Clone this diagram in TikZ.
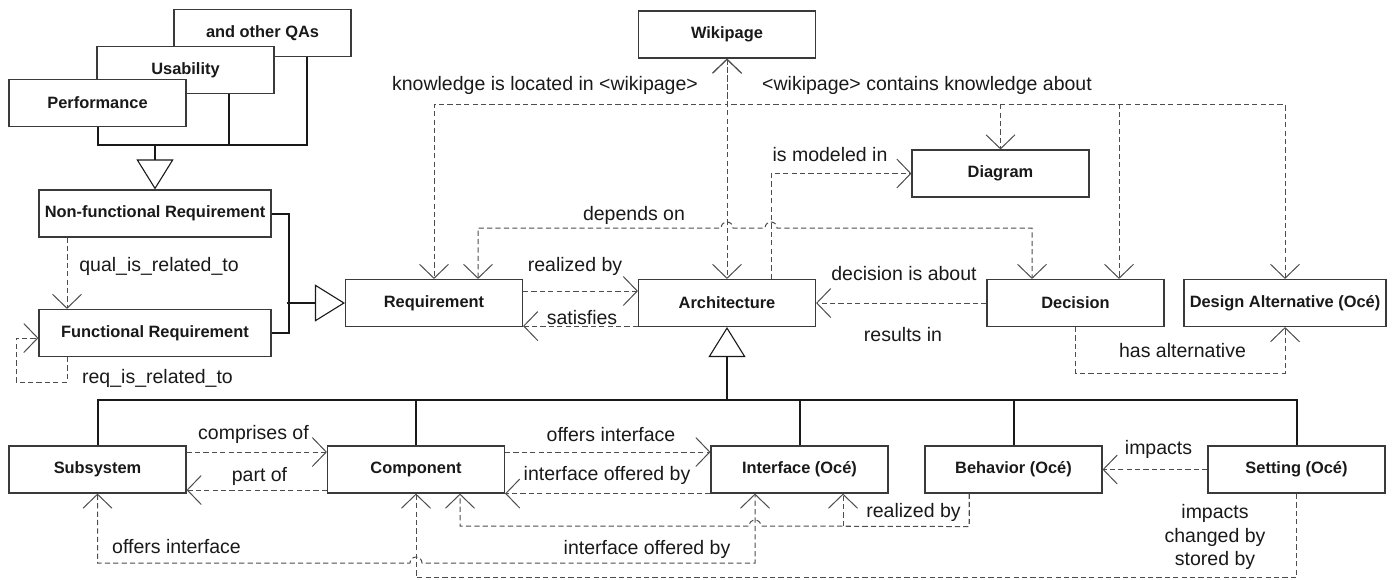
\documentclass[tikz,border=0pt]{standalone}
\usepackage{fontspec}
\setmainfont{Liberation Sans}
\usetikzlibrary{arrows.meta}
\definecolor{boxline}{HTML}{3A3A3A}
\definecolor{depline}{HTML}{4D4D4D}
\begin{document}
\begin{tikzpicture}[x=0.5pt,y=-0.5pt,
  cls/.style={draw=boxline,line width=0.55pt,fill=white,minimum width=88.5pt,minimum height=23.5pt,inner sep=1pt,font=\fontsize{8.2}{10}\selectfont\bfseries,text=black!90},
  lbl/.style={font=\fontsize{9.75}{11.7}\selectfont,text=black!90,inner sep=0pt},
  dep/.style={draw=depline,line width=0.5pt,dash pattern=on 2.6pt off 1.6pt},
  isa/.style={draw=black!90,line width=1pt},
  gen/.style={{Triangle[open,length=15pt,width=18.5pt,line width=0.55pt]}-},
  >={Straight Barb[length=7pt,width=14.5pt,line width=0.5pt]}]
\useasboundingbox (0,0) rectangle (1392,579);
\node[cls] (qa) at (262.5,33) {and other QAs};
\node[cls] (usab) at (185.5,70) {Usability};
\node[cls] (perf) at (97.5,103) {Performance};
\node[cls,minimum width=116pt] (nfr) at (155,213.5) {Non-functional Requirement};
\node[cls,minimum width=116pt] (fr) at (155,333) {Functional Requirement};
\node[cls] (req) at (434,303) {Requirement};
\node[cls] (arch) at (727,303) {Architecture};
\node[cls] (wiki) at (727,34.5) {Wikipage};
\node[cls] (diag) at (1000.5,173.5) {Diagram};
\node[cls] (dec) at (1075.5,303) {Decision};
\node[cls,minimum width=101pt] (alt) at (1285,303) {Design Alternative (Océ)};
\node[cls] (sub) at (97.5,469.5) {Subsystem};
\node[cls] (comp) at (416,469.5) {Component};
\node[cls] (intf) at (799.5,469.5) {Interface (Océ)};
\node[cls] (beh) at (1013.5,469.5) {Behavior (Océ)};
\node[cls] (set) at (1296.5,469.5) {Setting (Océ)};
\draw[isa] (perf.south) -- ++(0,18) -| ([xshift=22.25pt]qa.south);
\draw[isa] ([xshift=21.75pt]usab.south) -- ++(0,51);
\draw[isa,gen] (nfr.north) -- ++(0,-45);
\draw[isa] (nfr.east) -- ++(17,0) |- (fr.east);
\draw[isa,gen] (req.west) -- ++(-58,0);
\draw[isa,gen] (arch.south) -- ++(0,74);
\draw[isa] (sub.north) -- ++(0,-45) -| (set.north);
\draw[isa] (comp.north) -- ++(0,-45);
\draw[isa] (intf.north) -- ++(0,-45);
\draw[isa] (beh.north) -- ++(0,-45);
\draw[dep,<->] (wiki.south) -- (arch.north);
\draw[dep,<->] (wiki.south) -- ++(0,46) -| (req.north);
\draw[dep,->] (wiki.south) -- ++(0,46) -| (diag.north);
\draw[dep,->] (wiki.south) -- ++(0,46) -| ([xshift=21.75pt]dec.north);
\draw[dep,->] (wiki.south) -- ++(0,46) -| (alt.north);
\draw[dep,<->] ([xshift=22pt]req.north) |- (721,228) arc[start angle=180,end angle=0,radius=3pt] -- (765,228) arc[start angle=180,end angle=0,radius=3pt] -| ([xshift=-21.75pt]dec.north);
\draw[dep,->] ([xshift=22pt]arch.north) |- (diag.west);
\draw[dep,->] ([yshift=6pt]req.east) -- ([yshift=6pt]arch.west);
\draw[dep,->] ([yshift=0.5pt]arch.south west) -- ([yshift=0.5pt]req.south east);
\draw[dep,->] (dec.west) -- (arch.east);
\draw[dep,->] (dec.south) -- ++(0,46) -| (alt.south);
\draw[dep,->] ([xshift=-44pt]nfr.south) -- ([xshift=-44pt]fr.north);
\draw[dep,->] ([xshift=-44pt]fr.south) |- (16,382) |- ([yshift=-2.5pt]fr.west);
\draw[dep,->] ([yshift=8.75pt]sub.east) -- ([yshift=8.75pt]comp.west);
\draw[dep,->] ([yshift=-10.25pt]comp.west) -- ([yshift=-10.25pt]sub.east);
\draw[dep,->] ([yshift=8.75pt]comp.east) -- ([yshift=8.75pt]intf.west);
\draw[dep,->] (intf.south west) -- (comp.south east);
\draw[dep,->] (set.west) -- (beh.east);
\draw[dep,<->] (sub.south) |- (410,563) arc[start angle=180,end angle=0,radius=3pt] -| ([xshift=-22.25pt]intf.south);
\draw[dep,<-] (comp.south) -- ++(0,84) -| (set.south);
\draw[dep,->] ([xshift=-22.25pt]beh.south) -- ++(0,33) -- (761,526) arc[start angle=0,end angle=180,radius=3pt] -| ([xshift=22pt]comp.south);
\draw[dep,->] ([xshift=-22.25pt]beh.south) -- ++(0,33) -| ([xshift=21.75pt]intf.south);
\node[lbl] (kloc) at (545,85) {knowledge is located in <wikipage>};
\node[lbl] (kabout) at (927,85) {<wikipage> contains knowledge about};
\node[lbl] (model) at (830,154.5) {is modeled in};
\node[lbl] (depon) at (634,215) {depends on};
\node[lbl] (realtop) at (575,266) {realized by};
\node[lbl] (satis) at (582,317.5) {satisfies};
\node[lbl] (decab) at (904,273.5) {decision is about};
\node[lbl] (resin) at (903,334.5) {results in};
\node[lbl] (hasalt) at (1182.5,351) {has alternative};
\node[lbl] (qualrel) at (159,266.5) {qual\_is\_related\_to};
\node[lbl] (reqrel) at (157.5,378) {req\_is\_related\_to};
\node[lbl] (compr) at (253.5,434.5) {comprises of};
\node[lbl] (partof) at (259.5,476) {part of};
\node[lbl] (offtop) at (611,434.5) {offers interface};
\node[lbl] (ioftop) at (607,475) {interface offered by};
\node[lbl] (offbot) at (176.5,547) {offers interface};
\node[lbl] (iofbot) at (647,549.5) {interface offered by};
\node[lbl] (realbot) at (913.5,512.5) {realized by};
\node[lbl] (imp) at (1158.5,449.5) {impacts};
\node[lbl,align=center] (impset) at (1215,537) {impacts\\changed by\\stored by};
\end{tikzpicture}
\end{document}
